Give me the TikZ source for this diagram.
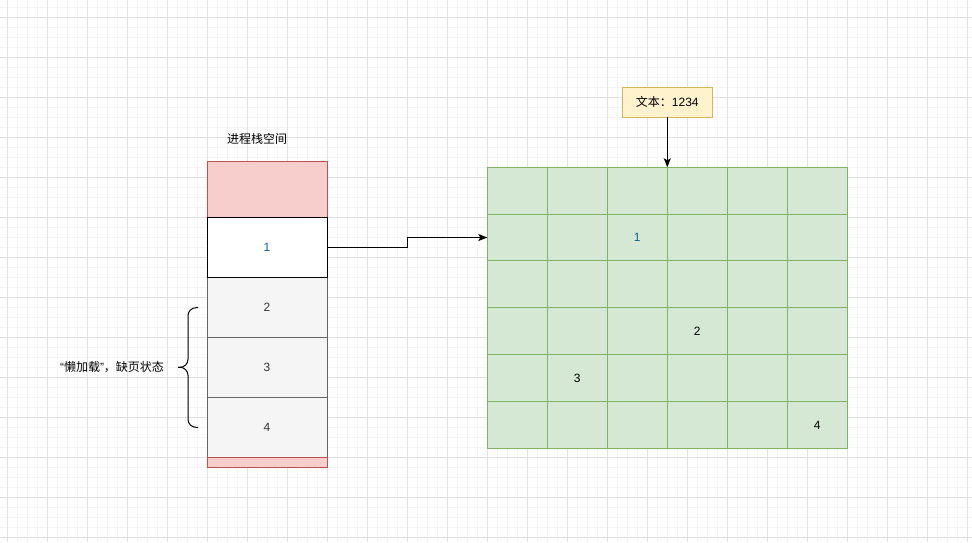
\documentclass[tikz,border=0pt]{standalone}
\usepackage{fontspec}
\setmainfont{Liberation Sans}
\newfontfamily\cjk{Noto Sans CJK SC}
\usetikzlibrary{arrows.meta}
\definecolor{pinkfill}{HTML}{F8CECC}
\definecolor{pinkline}{HTML}{B85450}
\definecolor{greenfill}{HTML}{D5E8D4}
\definecolor{greenline}{HTML}{82B366}
\definecolor{yelfill}{HTML}{FFF2CC}
\definecolor{yelline}{HTML}{D6B656}
\definecolor{grayfill}{HTML}{F5F5F5}
\definecolor{grayline}{HTML}{666666}
\definecolor{numblue}{HTML}{0A5FA0}
\definecolor{minorgrid}{HTML}{F4F4F4}
\definecolor{majorgrid}{HTML}{E2E2E2}
\tikzset{
  box/.style={rectangle, inner sep=0pt, outer sep=0pt, line width=1pt,
    minimum width=120pt, font=\fontsize{12}{14}\selectfont},
  pinkbox/.style={box, fill=pinkfill, draw=pinkline},
  graybox/.style={box, fill=grayfill, draw=grayline, text=black!80},
  whitebox/.style={box, fill=white, draw=black, text=numblue},
  cellbox/.style={box, fill=greenfill, draw=greenline, minimum width=60pt,
    minimum height=46.83pt},
  notebox/.style={box, fill=yelfill, draw=yelline, minimum width=90pt,
    minimum height=30pt},
  plain/.style={inner sep=0pt, font=\fontsize{12}{14}\selectfont},
  conn/.style={line width=1pt, -{Stealth[length=9pt,width=7pt,inset=2pt]}},
}
\begin{document}
\begin{tikzpicture}[x=1pt,y=-1pt]
\useasboundingbox (0,0) rectangle (972,542);
\fill[white] (0,0) rectangle (972,542);
% background grid
\foreach \i in {0,...,97} {
  \draw[minorgrid, line width=1pt] (7+10*\i,0) -- (7+10*\i,542);
}
\foreach \j in {0,...,53} {
  \draw[minorgrid, line width=1pt] (0,7+10*\j) -- (972,7+10*\j);
}
\foreach \i in {0,...,24} {
  \draw[majorgrid, line width=1pt] (7+40*\i,0) -- (7+40*\i,542);
}
\foreach \j in {0,...,13} {
  \draw[majorgrid, line width=1pt] (0,17+40*\j) -- (972,17+40*\j);
}
% stack
\node[plain] (title) at (257,139) {\cjk 进程栈空间};
\node[pinkbox, minimum height=56pt] (s0) at (267,189.3) {};
\node[graybox, minimum height=60pt] (s2) at (267,307.3) {2};
\node[graybox, minimum height=60pt] (s3) at (267,367.3) {3};
\node[graybox, minimum height=60pt] (s4) at (267,427.3) {4};
\node[pinkbox, minimum height=10pt] (s5) at (267,462.3) {};
\node[whitebox, minimum height=60pt] (s1) at (267,247.3) {1};
% brace
\coordinate (bt) at (198,307.7);
\coordinate (bm) at (178,367.3);
\coordinate (bb) at (198,427.3);
\draw[line width=1pt, rounded corners=8pt] (bt) -- (188,307.7) -- (188,367.3) -- (bm);
\draw[line width=1pt, rounded corners=8pt] (bm) -- (188,367.3) -- (188,427.3) -- (bb);
\node[plain] (lazy) at (112,367.3) {“{\cjk 懒加载}”{\cjk ，缺页状态}};
% green grid
\foreach \r in {1,...,6} {
  \foreach \c in {1,...,6} {
    \node[cellbox] (c\r\c) at (487.3+60*\c-30, 167.3+46.83*\r-23.415) {};
  }
}
\node[plain, text=numblue] (n1) at (c23) {1};
\node[plain] (n2) at (c44) {2};
\node[plain] (n3) at (c52) {3};
\node[plain] (n4) at (c66) {4};
% note
\node[notebox] (note) at (667.3,102.3) {{\cjk 文本：}1234};
% connectors
\draw[conn] (note.south) -- (c13.north east);
\draw[conn] (s1.east) -- (407.3,247.3) |- (c21.west);
\end{tikzpicture}
\end{document}
